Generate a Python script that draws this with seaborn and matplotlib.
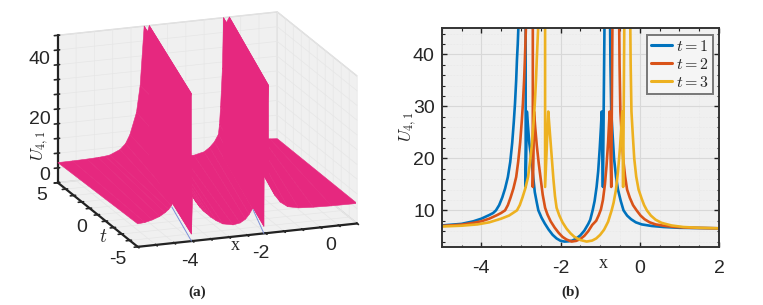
import numpy as np
import pandas as pd
import matplotlib
matplotlib.use("Agg")
import matplotlib.pyplot as plt
import seaborn as sns

# panel (a): profile of the surface along the front (t=-5) and back (t=5) edges
t_edges = [-5, 5]
x_front = [-5.0, -4.8, -4.6, -4.4, -4.25, -4.15, -4.08, -4.0, -3.9, -3.8, -3.72, -3.67, -3.6, -3.53, -3.53, -3.50, -3.4, -3.3, -3.2, -3.11, -3.0, -2.85, -2.67, -2.39, -2.2, -2.05, -1.95, -1.86, -1.78, -1.7, -1.63, -1.6, -1.58, -1.55, -1.54, -1.42, -1.42, -1.35, -1.25, -1.1, -0.9, -0.6, -0.2, 0.3, 1.0]
u_front = [7.8, 8.0, 8.6, 9.5, 10.6, 11.6, 12.7, 14.5, 19, 27, 38, 50, 47, 50, 2.4, 15.3, 13, 11.2, 9.7, 8.7, 7.4, 6, 4.7, 4.0, 4.4, 5.5, 7, 8.8, 11, 14, 20, 28, 50, 2.4, 23, 50, 20, 16, 12.5, 10, 8.2, 7.4, 7.1, 6.9, 6.8]
x_back = [-5.0, -4.6, -4.2, -3.9, -3.7, -3.58, -3.3, -3.15, -3.03, -2.85, -2.75, -2.64, -2.57, -2.5, -2.5, -2.48, -2.4, -2.3, -2.2, -2.1, -2.0, -1.9, -1.75, -1.6, -1.28, -1.0, -0.85, -0.72, -0.61, -0.58, -0.55, -0.5, -0.47, -0.46, -0.45, -0.31, -0.31, -0.2, -0.1, 0.0, 0.2, 0.4, 0.6, 0.8, 1.0]
u_back = [6.8, 6.85, 6.95, 7.1, 7.3, 7.5, 9, 10.8, 13.7, 21, 30, 50, 47, 50, 2.4, 15, 12.5, 10.5, 9.2, 8, 7.1, 6, 5.2, 4.8, 4.4, 5.2, 6.5, 8.2, 10.6, 14, 20, 33, 50, 2.4, 47, 50, 20, 14, 12.2, 11, 9, 8, 7.5, 7.2, 7.0]
shadow_x = [[-2.98, -3.53], [-1.1, -1.55]]
shadow_t = [[-0.03, -5], [-1.59, -5]]

# panel (b): one section of curve per "seg"
x_t1_a = [-5, -4.5, -4.2, -4, -3.8, -3.7, -3.63, -3.55, -3.47, -3.4, -3.33, -3.27, -3.22, -3.18, -3.15, -3.12, -3.10, -3.08, -3.06]
u_t1_a = [7.1, 7.4, 7.9, 8.4, 9.1, 9.5, 10, 11, 12.5, 14.2, 16.4, 19.3, 23, 27, 30.5, 35, 39, 42, 46]
x_t1_b = [-2.88, -2.88, -2.85, -2.82, -2.79, -2.74, -2.69, -2.65, -2.6, -2.56, -2.48, -2.4, -2.3, -2.2, -2.1, -2.0, -1.9, -1.8, -1.7, -1.6, -1.5, -1.4, -1.3, -1.25, -1.19, -1.14, -1.09, -1.05, -1.01, -0.98, -0.96, -0.93, -0.89]
u_t1_b = [46, 14.5, 29, 26, 23, 20, 16.4, 13.5, 11.5, 10, 8.6, 7.5, 6.3, 5.3, 4.6, 4.15, 4.0, 4.05, 4.2, 4.6, 5.2, 6.1, 7.4, 8.2, 10, 11.8, 14.5, 17.5, 22, 26, 29, 14.5, 46]
x_t1_c = [-0.75, -0.74, -0.72, -0.69, -0.65, -0.6, -0.55, -0.48, -0.41, -0.32, -0.22, -0.1, 0.05, 0.3, 0.6, 1, 2]
u_t1_c = [46, 38, 29, 25, 20, 16.5, 14, 11.8, 10, 9, 8.3, 7.7, 7.3, 7.0, 6.8, 6.65, 6.55]

x_t2_a = [-5, -4.5, -4.2, -4, -3.8, -3.6, -3.5, -3.4, -3.33, -3.26, -3.19, -3.12, -3.07, -3.02, -2.98, -2.95, -2.92, -2.90, -2.87]
u_t2_a = [7.0, 7.25, 7.6, 7.9, 8.4, 9.1, 9.5, 10, 11, 12.5, 14.2, 16.4, 19.3, 23, 27, 30.5, 35, 39, 46]
x_t2_b = [-2.70, -2.70, -2.67, -2.64, -2.6, -2.55, -2.5, -2.45, -2.39, -2.33, -2.25, -2.15, -2.05, -1.95, -1.85, -1.72, -1.6, -1.5, -1.4, -1.3, -1.2, -1.1, -1.04, -0.98, -0.93, -0.88, -0.84, -0.80, -0.78, -0.76, -0.72, -0.69]
u_t2_b = [46, 14.5, 29, 26, 22.5, 19, 16, 13, 10.5, 9.2, 7.9, 6.7, 5.7, 4.9, 4.4, 4.0, 4.15, 4.5, 5.1, 6.0, 7.2, 8, 9, 10.2, 12, 15, 18.5, 23, 26, 29, 14.5, 46]
x_t2_c = [-0.52, -0.51, -0.49, -0.46, -0.42, -0.37, -0.32, -0.25, -0.17, -0.08, 0.02, 0.12, 0.25, 0.4, 0.65, 0.9, 1.3, 2]
u_t2_c = [46, 38, 29, 25, 20, 16.5, 14, 12.4, 11, 10, 9, 8.3, 7.7, 7.3, 7, 6.8, 6.65, 6.55]

x_t3_a = [-5, -4.5, -4.1, -3.8, -3.5, -3.3, -3.2, -3.1, -3.03, -2.96, -2.89, -2.82, -2.77, -2.72, -2.68, -2.65, -2.62, -2.60, -2.56]
u_t3_a = [6.9, 7.05, 7.3, 7.7, 8.4, 9, 9.5, 10, 11, 12.5, 14.2, 16.4, 19.3, 23, 27, 30.5, 35, 39, 46]
x_t3_b = [-2.39, -2.39, -2.31, -2.28, -2.25, -2.22, -2.18, -2.14, -2.1, -2.03, -1.95, -1.85, -1.75, -1.65, -1.5, -1.34, -1.2, -1.1, -1.0, -0.9, -0.8, -0.71, -0.66, -0.6, -0.55, -0.5, -0.47, -0.44, -0.42, -0.39]
u_t3_b = [46, 14.5, 29, 26, 23, 20, 16, 12.7, 10.5, 9, 7.7, 6.5, 5.6, 4.9, 4.3, 4.0, 4.2, 4.6, 5.3, 6.3, 7.8, 10, 11.5, 14, 17.5, 22, 25.5, 29, 14.5, 46]
x_t3_c = [-0.24, -0.23, -0.21, -0.18, -0.14, -0.09, -0.03, 0.05, 0.11, 0.18, 0.28, 0.4, 0.55, 0.8, 1.1, 1.5, 2]
u_t3_c = [46, 38, 29, 25, 20, 16.5, 14, 12.2, 11, 10, 9, 8.2, 7.6, 7.1, 6.8, 6.65, 6.55]

labels = ["$t=1$", "$t=2$", "$t=3$"]
line_colors = ["#0072BD", "#D95319", "#EDB120"]
pink = "#E6287F"

sns.set_theme(style="white")
plt.rcParams["font.family"] = ["Liberation Sans", "DejaVu Sans"]
plt.rcParams["mathtext.fontset"] = "cm"
text_col = "#262626"

fig = plt.figure(figsize=(7.63, 3.05), dpi=100)

# ---- (a)
ax3 = fig.add_axes([5 / 763, 19 / 305, 0.52, 1.0], projection="3d")
ax3.set_proj_type("ortho")
ax3.view_init(elev=17, azim=-110)
ax3.set_box_aspect((1, 1, 0.66), zoom=1.16)
X = np.array([x_front, x_back])
T = np.array([[t_edges[0]] * len(x_front), [t_edges[1]] * len(x_back)])
Z = np.array([u_front, u_back])
ax3.plot_surface(X, T, Z, color=pink, shade=False, edgecolor=pink, linewidth=0.4, rstride=1, cstride=1)
for sx, st in zip(shadow_x, shadow_t):
    ax3.plot(sx, st, [0, 0], color="#7b8fd8", lw=0.7, zorder=10)
ax3.set_xlim(-5, 1)
ax3.set_ylim(-5, 5)
ax3.set_zlim(0, 50)
ax3.set_xticks(np.arange(-5, 1.01, 0.5))
ax3.set_yticks(np.arange(-5, 5.01, 1))
ax3.set_zticks(np.arange(0, 50.1, 5))
ax3.set_xticklabels([])
ax3.set_yticklabels([])
ax3.set_zticklabels([])
for axis in (ax3.xaxis, ax3.yaxis, ax3.zaxis):
    axis.set_pane_color("#f0f0f0")
    axis.pane.set_edgecolor("#d8d8d8")
    axis.line.set_color("#222222")
    axis.line.set_linewidth(1.6)
    axis._axinfo["grid"]["color"] = "#e6e6e6"
    axis._axinfo["grid"]["linewidth"] = 0.5
    axis._axinfo["tick"]["color"] = "#222222"
    axis._axinfo["tick"]["linewidth"] = {True: 1.2, False: 1.2}
# tick labels of the 3d box sit off the ticks in the reference, so they are placed by hand
for txt, px, py in [("40", 39, 59), ("20", 40, 119), ("0", 45, 176), ("5", 42, 195), ("0", 82, 227), ("-5", 118, 259),
                    ("-4", 190, 262), ("-2", 261, 254), ("0", 331, 245)]:
    fig.text(px / 763, 1 - py / 305, txt, fontsize=14, ha="center", va="center", color=text_col)
fig.text(235 / 763, 1 - 246 / 305, "x", fontsize=13, family="Liberation Serif", ha="center", va="center", color=text_col)
fig.text(103 / 763, 1 - 238 / 305, "$t$", fontsize=14, ha="center", va="center", color=text_col)
fig.text(40 / 763, 1 - 146 / 305, "$U_{4,1}$", fontsize=12.5, rotation=90, ha="center", va="center", color=text_col)

# ---- (b)
ax = fig.add_axes([441.7 / 763, 1 - 247.3 / 305, 277.3 / 763, 219 / 305])
sections = [
    (labels[0], "a", x_t1_a, u_t1_a), (labels[0], "b", x_t1_b, u_t1_b), (labels[0], "c", x_t1_c, u_t1_c),
    (labels[1], "a", x_t2_a, u_t2_a), (labels[1], "b", x_t2_b, u_t2_b), (labels[1], "c", x_t2_c, u_t2_c),
    (labels[2], "a", x_t3_a, u_t3_a), (labels[2], "b", x_t3_b, u_t3_b), (labels[2], "c", x_t3_c, u_t3_c),
]
rows = []
for lab, seg, xs, us in sections:
    rows.append(pd.DataFrame({"x": xs, "U": us, "t": lab, "seg": lab + seg}))
df = pd.concat(rows)
sns.lineplot(data=df, x="x", y="U", hue="t", units="seg", estimator=None, sort=False,
             palette=dict(zip(labels, line_colors)), lw=1.9, ax=ax, legend=False)
ax.set_xlim(-5, 2)
ax.set_ylim(2.9, 45)
ax.set_facecolor("#f0f0f0")
ax.set_xticks([-4, -2, 0, 2])
ax.set_xticklabels(["-4", "-2", "0", "2"])
ax.set_yticks([10, 20, 30, 40])
ax.set_xticks(np.arange(-5, 2.01, 0.5), minor=True)
ax.set_yticks(np.arange(4, 45, 2), minor=True)
ax.grid(True, which="major", color="#d8d8d8", lw=0.8)
ax.grid(True, which="minor", color="#e2e2e2", lw=0.4, ls=":")
ax.set_axisbelow(True)
ax.tick_params(which="major", direction="in", length=3.5, width=1, top=True, right=True, bottom=True, left=True,
               labelsize=14, labelcolor=text_col, color="#222222", pad=9)
ax.tick_params(which="minor", direction="in", length=1.8, width=0.8, top=True, right=True, bottom=True, left=True, color="#222222")
ax.tick_params(axis="y", which="major", pad=5)
for sp in ax.spines.values():
    sp.set_color("#333333")
    sp.set_linewidth(1.4)
ax.set_xlabel("")
ax.set_ylabel("")
fig.text(408 / 763, 1 - 127 / 305, "$U_{4,1}$", fontsize=12.5, rotation=90, ha="center", va="center", color=text_col)
fig.text(603 / 763, 1 - 263 / 305, "x", fontsize=13, family="Liberation Serif", ha="center", va="center", color=text_col)
handles = [plt.Line2D([], [], color=c, lw=2.2) for c in line_colors]
leg = ax.legend(handles, labels, loc="upper right", fontsize=11.5, frameon=True, fancybox=False, framealpha=1,
                edgecolor="#777777", facecolor="#f5f5f5", handlelength=1.35, handletextpad=0.2, labelspacing=0.2,
                borderpad=0.25, borderaxespad=0.4)
leg.get_frame().set_linewidth(1.4)

fig.text(197 / 763, 1 - 292 / 305, "(a)", fontsize=11, fontweight="bold", family="Liberation Serif", ha="center", va="center")
fig.text(571 / 763, 1 - 292 / 305, "(b)", fontsize=11, fontweight="bold", family="Liberation Serif", ha="center", va="center")

fig.savefig("out.png", dpi=100)
